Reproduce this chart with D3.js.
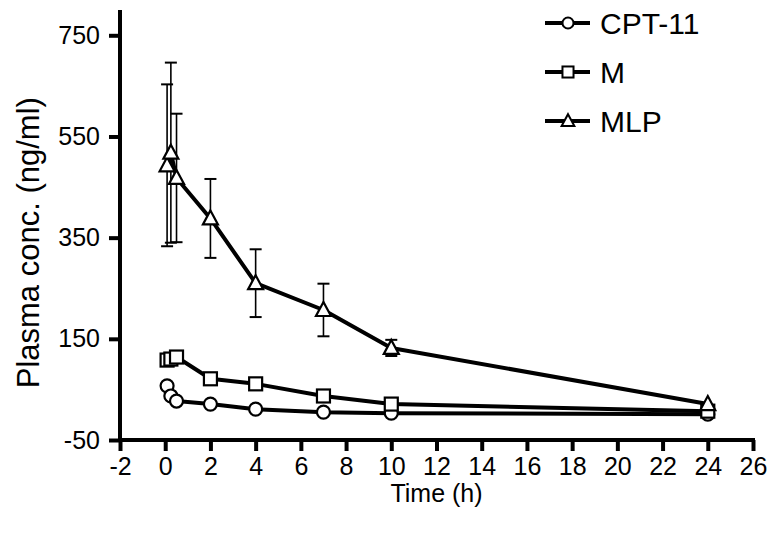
<!DOCTYPE html>
<html><head><meta charset="utf-8">
<script src="https://cdn.jsdelivr.net/npm/d3@7"></script>
<style>body{margin:0;background:#fff}svg{display:block}text{font-family:"Liberation Sans",Arial,sans-serif}</style>
</head><body><svg id="c" width="783" height="539"></svg>
<script>
const times = [0.083, 0.25, 0.5, 2, 4, 7, 10, 24];
const cpt11 = [57, 37, 27, 21, 11, 5, 3, 1];
const mVals = [108, 110, 114, 71, 61, 37, 21, 7];
const mlp = [493, 518, 468, 388, 260, 207, 132, 21];
const mlpSD = [160, 178, 127, 78, 67, 52, 16, 0];
const xTicks = [-2, 0, 2, 4, 6, 8, 10, 12, 14, 16, 18, 20, 22, 24, 26];
const yTicks = [-50, 150, 350, 550, 750];
const seriesNames = ["CPT-11", "M", "MLP"];

const svg = d3.select("#c");
const x = d3.scaleLinear().domain([-2, 26]).range([120, 753]);
const y = d3.scaleLinear().domain([-50, 800]).range([440, 10]);
const fmt = d => String(d);

// axes
const xAxis = svg.append("g").attr("transform", "translate(0,440)")
  .call(d3.axisBottom(x).tickValues(xTicks).tickFormat(fmt).tickSize(11).tickPadding(6).tickSizeOuter(0));
const yAxis = svg.append("g").attr("transform", "translate(120,0)")
  .call(d3.axisLeft(y).tickValues(yTicks).tickFormat(fmt).tickSize(11).tickPadding(9).tickSizeOuter(0));
[xAxis, yAxis].forEach(a => {
  a.selectAll("path").attr("stroke", "#000").attr("stroke-width", 4);
  a.selectAll("line").attr("stroke", "#000").attr("stroke-width", 4);
  a.selectAll("text").attr("fill", "#000").style("font-size", "25px");
});
xAxis.select("path").attr("d", `M${x(-2)-2},0H${x(26)+2}`);
yAxis.select("path").attr("d", `M0,${y(800)}V${y(-50)+2}`);

svg.append("text").attr("x", x(12)).attr("y", 502).attr("text-anchor", "middle")
  .style("font-size", "25px").text("Time (h)");
svg.append("text").attr("transform", `translate(39,${y(340)}) rotate(-90)`)
  .attr("text-anchor", "middle").style("font-size", "31px").text("Plasma conc. (ng/ml)");

const line = d3.line().x(d => x(d[0])).y(d => y(d[1]));
const g = svg.append("g");

// error bars for MLP
const eb = g.append("g");
times.forEach((t, i) => {
  const sd = mlpSD[i];
  if (!sd) return;
  const cx = x(t), y1 = y(mlp[i] + sd), y2 = y(mlp[i] - sd);
  eb.append("line").attr("x1", cx).attr("x2", cx).attr("y1", y1).attr("y2", y2).attr("stroke", "#000").attr("stroke-width", 1.6);
  [y1, y2].forEach(yy => eb.append("line").attr("x1", cx - 6).attr("x2", cx + 6).attr("y1", yy).attr("y2", yy).attr("stroke", "#000").attr("stroke-width", 2));
});

const data = [cpt11, mVals, mlp].map(vals => times.map((t, i) => [t, vals[i]]));
data.forEach(d => g.append("path").attr("d", line(d)).attr("fill", "none").attr("stroke", "#000").attr("stroke-width", 4).attr("stroke-linejoin", "round"));

function marker(sel, type, cx, cy, s) {
  if (type === 0) sel.append("circle").attr("cx", cx).attr("cy", cy).attr("r", 6.5 * s);
  else if (type === 1) sel.append("rect").attr("x", cx - 6.5 * s).attr("y", cy - 6.5 * s).attr("width", 13 * s).attr("height", 13 * s);
  else sel.append("path").attr("d", `M${cx},${cy - 8 * s}L${cx + 7.5 * s},${cy + 6 * s}L${cx - 7.5 * s},${cy + 6 * s}Z`);
}
const mk = g.append("g").attr("fill", "#fff").attr("stroke", "#000").attr("stroke-width", 2.2);
data.forEach((d, k) => d.forEach(p => marker(mk, k, x(p[0]), y(p[1]), 1)));

// legend
const lg = svg.append("g");
seriesNames.forEach((n, k) => {
  const yy = 23 + k * 49;
  lg.append("line").attr("x1", 545).attr("x2", 590).attr("y1", yy).attr("y2", yy).attr("stroke", "#000").attr("stroke-width", 4);
  const m = lg.append("g").attr("fill", "#fff").attr("stroke", "#000").attr("stroke-width", 2);
  marker(m, k, 568, yy, 0.85);
  lg.append("text").attr("x", 600).attr("y", yy + 11).style("font-size", "30px").text(n);
});
</script></body></html>
